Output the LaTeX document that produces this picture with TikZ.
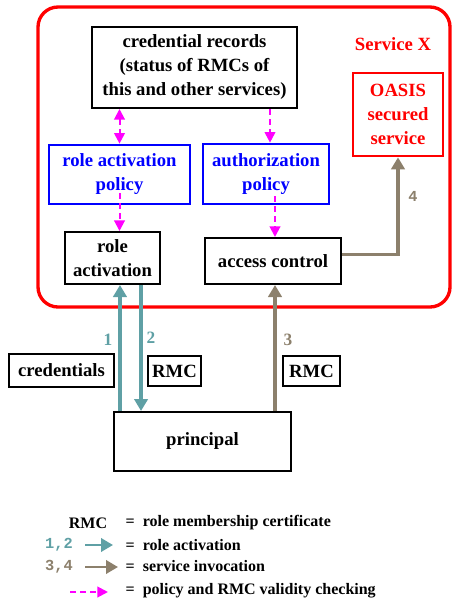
\documentclass[tikz,border=0pt]{standalone}
\usepackage{fontspec}
\setmainfont{Liberation Serif}
\setmonofont{Liberation Mono}
\usetikzlibrary{arrows.meta}

\definecolor{actteal}{RGB}{95,160,165}
\definecolor{invbrown}{RGB}{140,128,108}
\definecolor{checkpink}{RGB}{255,0,255}

\tikzset{
	box/.style={draw, line width=1.5pt, align=center, inner sep=0pt,
		font=\fontsize{14}{18}\selectfont\bfseries},
	policybox/.style={box, draw=blue, text=blue, line width=2pt},
	servbox/.style={box, draw=red, text=red, line width=2pt},
	check/.style={checkpink, line width=1.5pt, dash pattern=on 4.5pt off 3pt,
		-{Triangle[width=8pt,length=8pt]}},
	act/.style={actteal, line width=2.5pt, -{Triangle[width=10pt,length=9pt]}},
	inv/.style={invbrown, line width=2.5pt, -{Triangle[width=10pt,length=9pt]}},
	legend/.style={font=\fontsize{12}{14}\selectfont\bfseries, anchor=west},
	numlabel/.style={font=\fontsize{13}{15}\selectfont\bfseries},
}

\begin{document}
\begin{tikzpicture}[x=0.75pt, y=-0.75pt]
		\useasboundingbox (0,0) rectangle (451,603);
		
		% service boundary
		\draw [red, line width=2.5pt, rounded corners=15pt] (38,7) rectangle (450,307);
		\node [red, font=\fontsize{14}{16}\selectfont\bfseries] (servx) at (393,44) {Service X};
		
		\node [box, minimum width=153.75pt, minimum height=60.75pt] (cred) at (194.5,67.5)
			{credential records\\(status of RMCs of\\this and other services)};
		\node [servbox, minimum width=67.5pt, minimum height=62.25pt] (oasis) at (398,114.5)
			{OASIS\\secured\\service};
		\node [policybox, minimum width=105.75pt, minimum height=44.25pt] (rapol) at (119.5,174.5)
			{role activation\\policy};
		\node [policybox, minimum width=94.5pt, minimum height=45pt] (authpol) at (266,174)
			{authorization\\policy};
		\node [box, minimum width=71.25pt, minimum height=39pt] (roleact) at (112.5,258)
			{role\\activation};
		\node [box, minimum width=102pt, minimum height=34.5pt] (access) at (273,261)
			{access control};
		
		\node [box, minimum width=78.75pt, minimum height=24.75pt] (creds) at (61.5,370) {credentials};
		\node [box, minimum width=39.75pt, minimum height=22.5pt] (rmca) at (174.5,371) {RMC};
		\node [box, minimum width=42.75pt, minimum height=22.5pt] (rmcb) at (311.5,371) {RMC};
		\node [box, minimum width=132.75pt, minimum height=44.25pt] (princ) at (202.5,441.5) {principal};
		
		% policy and validity checks
		\draw [check, {Triangle[width=8pt,length=8pt]}-{Triangle[width=8pt,length=8pt]}]
			(rapol.north |- cred.south) -- (rapol.north);
		\draw [check] ([xshift=3pt]authpol.north |- cred.south) -- ([xshift=3pt]authpol.north);
		\draw [check] ([yshift=9pt]rapol.south) -- (rapol.south |- roleact.north);
		\draw [check] ([xshift=6.75pt,yshift=7pt]authpol.south) -- ([xshift=6.75pt]authpol.south |- access.north);
		
		% role activation
		\draw [act] ([xshift=5.6pt]roleact.south |- princ.north) -- ([xshift=5.6pt]roleact.south);
		\draw [act] ([xshift=21.4pt]roleact.south) -- ([xshift=21.4pt]roleact.south |- princ.north);
		\node [actteal, numlabel] (lone) at (108,340) {1};
		\node [actteal, numlabel] (ltwo) at (151,338) {2};
		
		% service invocation
		\draw [inv] ([xshift=1.5pt]access.south |- princ.north) -- ([xshift=1.5pt]access.south);
		\draw [inv] ([yshift=5pt]access.east) -| (oasis.south);
		\node [invbrown, numlabel] (lthree) at (288,340) {3};
		\node [invbrown, font=\fontsize{11.5}{13}\selectfont\ttfamily\bfseries] (lfour) at (413,196) {4};
		
		% legend
		\node [font=\fontsize{12}{14}\selectfont\bfseries] (kRMC) at (88,523) {RMC};
		\node [legend] (kRMCt) at (121,523) {=\ \ role membership certificate};
		\node [actteal, font=\fontsize{11.5}{13}\selectfont\ttfamily\bfseries] (kact) at (59,545) {1,2};
		\coordinate (kacta) at (85,545);
		\coordinate (kactb) at (113,545);
		\draw [act, line width=2pt] (kacta) -- (kactb);
		\node [legend] (kactt) at (121,545) {=\ \ role activation};
		\node [invbrown, font=\fontsize{11.5}{13}\selectfont\ttfamily\bfseries] (kinv) at (59,567) {3,4};
		\coordinate (kinva) at (85,567);
		\coordinate (kinvb) at (118,567);
		\draw [inv, line width=2pt] (kinva) -- (kinvb);
		\node [legend] (kinvt) at (121,566) {=\ \ service invocation};
		\coordinate (kchka) at (70,592);
		\coordinate (kchkb) at (108,592);
		\draw [check] (kchka) -- (kchkb);
		\node [legend] (kchkt) at (121,591) {=\ \ policy and RMC validity checking};

	\end{tikzpicture}
\end{document}
